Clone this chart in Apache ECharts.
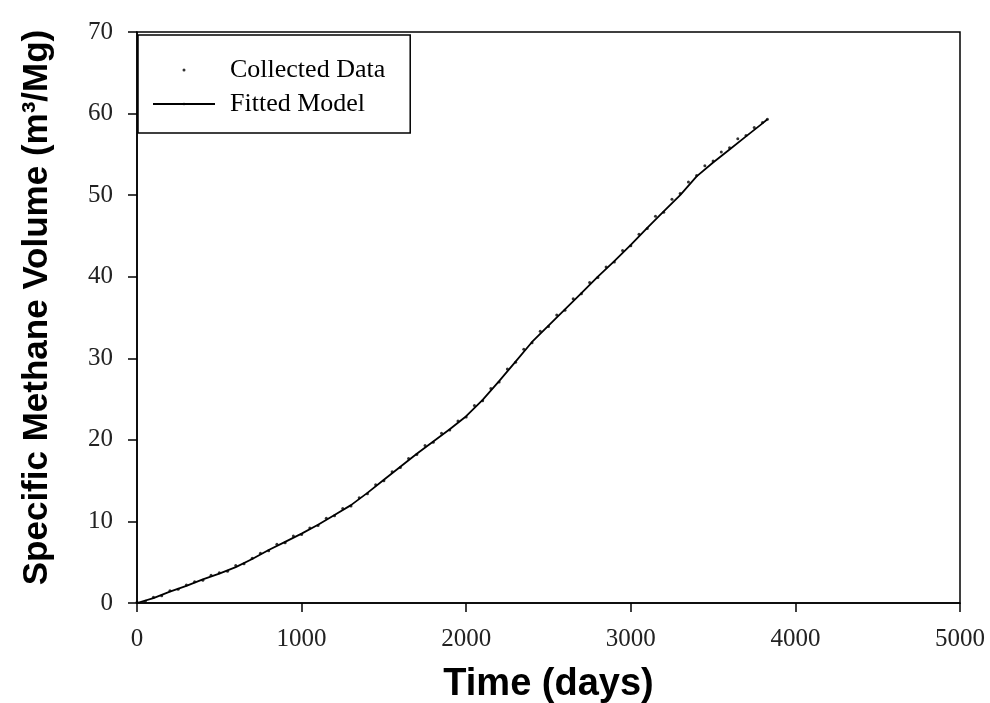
<!DOCTYPE html>
<html lang="en">
  <head>
    <meta charset="UTF-8" />
    <title>Specific Methane Volume</title>
    <style>
      html,
      body {
        width: 100%;
        height: 100%;
        margin: 0;
        overflow: hidden;
        background: #fff;
      }
      #main {
        width: 990px;
        height: 703px;
      }
    </style>
  </head>
  <body>
    <div id="main"></div>
    <script src="https://cdn.jsdelivr.net/npm/echarts@6/dist/echarts.min.js"></script>
    <script>
      // collected data (days, m3/Mg)
      const collectedDays = [
        0, 50, 100, 150, 200, 250, 300, 350, 400, 450, 500, 550, 600, 650, 700, 750,
        800, 850, 900, 950, 1000, 1050, 1100, 1150, 1200, 1250, 1300, 1350, 1400, 1450,
        1500, 1550, 1600, 1650, 1700, 1750, 1800, 1850, 1900, 1950, 2000, 2050, 2100,
        2150, 2200, 2250, 2300, 2350, 2400, 2450, 2500, 2550, 2600, 2650, 2700, 2750,
        2800, 2850, 2900, 2950, 3000, 3050, 3100, 3150, 3200, 3250, 3300, 3350, 3400,
        3450, 3500, 3550, 3600, 3650, 3700, 3750, 3800, 3830
      ];
      const collectedVolume = [
        0.1, 0.2, 0.7, 0.9, 1.5, 1.7, 2.2, 2.6, 2.8, 3.4, 3.7, 3.9, 4.6, 4.8, 5.5, 6.1,
        6.4, 7.2, 7.4, 8.2, 8.4, 9.2, 9.5, 10.4, 10.7, 11.6, 11.9, 12.9, 13.4, 14.5,
        15.0, 16.1, 16.6, 17.7, 18.2, 19.3, 19.7, 20.8, 21.2, 22.3, 22.8, 24.2, 24.8,
        26.3, 27.1, 28.7, 29.5, 31.1, 31.9, 33.3, 33.9, 35.3, 35.9, 37.3, 37.9, 39.3,
        39.9, 41.2, 41.8, 43.2, 43.8, 45.2, 45.9, 47.4, 47.9, 49.5, 50.2, 51.6, 52.4,
        53.6, 54.2, 55.3, 55.8, 56.9, 57.3, 58.3, 58.9, 59.3
      ];

      // fitted model curve
      const modelDays = [
        0, 100, 200, 300, 400, 500, 600, 700, 800, 900, 1000, 1100, 1200, 1300, 1400,
        1500, 1600, 1700, 1800, 1900, 2000, 2100, 2200, 2300, 2400, 2500, 2600, 2700,
        2800, 2900, 3000, 3100, 3200, 3300, 3400, 3500, 3600, 3700, 3800, 3830
      ];
      const modelVolume = [
        0, 0.6, 1.4, 2.1, 2.9, 3.6, 4.4, 5.4, 6.5, 7.5, 8.5, 9.6, 10.8, 12.0, 13.5,
        15.1, 16.7, 18.3, 19.8, 21.3, 22.9, 24.9, 27.2, 29.6, 32.0, 34.0, 36.0, 38.0,
        40.0, 41.9, 43.9, 46.0, 48.0, 50.0, 52.3, 54.0, 55.6, 57.2, 58.8, 59.3
      ];

      const pair = (xs, ys) => xs.map((x, i) => [x, ys[i]]);

      const axisText = {
        fontFamily: "Liberation Serif",
        fontSize: 25,
        color: "#222",
        formatter: (v) => String(v),
      };

      const option = {
        backgroundColor: "#fff",
        animation: false,
        grid: {
          left: 137,
          right: 30,
          top: 32,
          bottom: 100,
          outerBoundsMode: "none",
          show: true,
          borderColor: "#000",
          borderWidth: 1.5,
        },
        legend: {
          orient: "vertical",
          left: 138,
          top: 35,
          padding: [22, 25, 16, 14],
          itemGap: 8,
          itemWidth: 62,
          itemHeight: 3,
          borderColor: "#000",
          borderWidth: 1.5,
          backgroundColor: "#fff",
          textStyle: {
            fontFamily: "Liberation Serif",
            fontSize: 26,
            color: "#000",
            padding: [0, 0, 0, 10],
          },
          data: [
            { name: "Collected Data", icon: "circle" },
            { name: "Fitted Model" },
          ],
        },
        xAxis: {
          type: "value",
          min: 0,
          max: 5000,
          interval: 1000,
          name: "Time (days)",
          nameLocation: "middle",
          nameGap: 63,
          nameTextStyle: {
            fontFamily: "Liberation Sans",
            fontWeight: "bold",
            fontSize: 38,
            color: "#000",
          },
          axisLine: { lineStyle: { color: "#000", width: 1.5 } },
          axisTick: { inside: false, length: 9, lineStyle: { color: "#000", width: 1.5 } },
          axisLabel: Object.assign({ margin: 24 }, axisText),
          splitLine: { show: false },
        },
        yAxis: {
          type: "value",
          min: 0,
          max: 70,
          interval: 10,
          name: "Specific Methane Volume (m³/Mg)",
          nameLocation: "middle",
          nameGap: 82,
          nameTextStyle: {
            fontFamily: "Liberation Sans",
            fontWeight: "bold",
            fontSize: 35,
            color: "#000",
            padding: [0, 0, 0, 20],
          },
          axisLine: { lineStyle: { color: "#000", width: 1.5 } },
          axisTick: { inside: false, length: 9, lineStyle: { color: "#000", width: 1.5 } },
          axisLabel: Object.assign({ margin: 24 }, axisText),
          splitLine: { show: false },
        },
        series: [
          {
            name: "Collected Data",
            type: "scatter",
            symbol: "circle",
            symbolSize: 3,
            itemStyle: { color: "#000" },
            data: pair(collectedDays, collectedVolume),
            z: 3,
          },
          {
            name: "Fitted Model",
            type: "line",
            showSymbol: false,
            symbol: "none",
            lineStyle: { color: "#000", width: 1.8 },
            itemStyle: { color: "#000" },
            data: pair(modelDays, modelVolume),
            z: 2,
          },
        ],
      };

      const myChart = echarts.init(document.getElementById("main"));
      myChart.setOption(option);
    </script>
  </body>
</html>
